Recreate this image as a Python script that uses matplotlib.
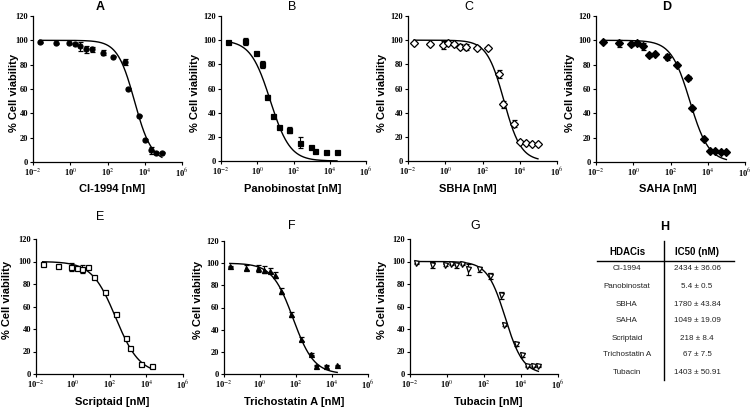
import numpy as np
import matplotlib.pyplot as plt
from matplotlib.lines import Line2D

plt.rcParams['font.family'] = 'Liberation Sans'
plt.rcParams['mathtext.fontset'] = 'stix'

W, H = 754, 409

# --- data (concentrations in nM, % cell viability, SEM) ---
conc_a = [0.023, 0.18, 0.81, 1.7, 3.3, 6.8, 14, 58, 204, 830, 1320, 5100, 10700, 22400, 40000, 83000]
via_a = [98.4, 97.5, 97.5, 97, 95, 92.5, 92.6, 90, 86.6, 82, 60, 38, 18, 9.5, 7.6, 7.6]
err_a = [0.5, 0.5, 0.5, 0.5, 4, 2.5, 2, 2, 0.5, 2.5, 0.5, 0.5, 0.5, 3, 0.5, 0.5]

conc_b = [0.023, 0.2, 0.87, 1.9, 3.6, 7.8, 15, 60, 230, 910, 1550, 6300, 25000]
via_b = [98.6, 99.2, 89, 80, 53, 37.4, 28, 25.8, 15, 12, 8.6, 7.5, 7.5]
err_b = [0.5, 3, 1.5, 3, 2, 1, 0.5, 2.5, 4.5, 0.5, 0.5, 0.5, 0.5]

conc_c = [0.021, 0.15, 0.72, 1.4, 2.8, 5.9, 12.3, 50, 195, 760, 1230, 4800, 10000, 20500, 44000, 95000]
via_c = [98, 96.5, 96, 98, 97, 94.6, 94, 93.8, 93.5, 72, 47, 31, 15.7, 15, 14, 14]
err_c = [0.5, 0.5, 3, 0.5, 0.5, 2, 2.5, 1.5, 0.5, 3, 3, 3, 0.5, 0.5, 0.5, 0.5]

conc_d = [0.023, 0.17, 0.78, 1.6, 3.5, 7.2, 15, 62, 230, 890, 1510, 6200, 12600, 24500, 51000, 100000]
via_d = [99, 97.4, 97, 97.4, 95, 88, 89, 86, 79.4, 69, 44.7, 18.5, 8.8, 9, 8, 8]
err_d = [0.5, 2.5, 2, 0.5, 3, 1.5, 0.5, 2.5, 0.5, 1.5, 0.5, 0.5, 0.5, 0.5, 0.5, 0.5]

conc_e = [0.023, 0.16, 0.79, 1.7, 3.3, 6.9, 15, 58, 220, 830, 1320, 5500, 21000]
via_e = [97.9, 95.6, 95.5, 94.4, 93.5, 95, 86, 72.9, 53.1, 32.4, 22.7, 8.8, 7.4]
err_e = [0.5, 0.5, 3.5, 0.5, 3.5, 1, 0.5, 0.5, 0.5, 0.5, 0.5, 0.5, 0.5]

conc_f = [0.021, 0.16, 0.76, 1.6, 3.4, 7.1, 14.5, 52, 190, 690, 1260, 4900, 19500]
via_f = [97, 96, 95.4, 94, 93.3, 89.4, 75, 53.7, 31.5, 18, 7.5, 7.5, 7.8]
err_f = [0.5, 2.5, 3, 3, 2.5, 2.5, 3, 2, 2, 0.5, 0.5, 0.5, 0.5]

conc_g = [0.021, 0.16, 0.74, 1.6, 3.2, 6.8, 13.8, 56, 210, 830, 1260, 5400, 11000, 21000, 43000, 87000]
via_g = [98.6, 97, 96.8, 97.4, 96.5, 97.7, 93, 93, 87, 69.8, 44, 26.7, 17, 7, 7, 7]
err_g = [0.5, 3, 1, 0.5, 2, 0.5, 5, 2.5, 2.5, 3.5, 1.5, 1.5, 2, 0.5, 0.5, 0.5]

# fitted curve parameters: log10 IC50, Hill slope
fit_a = (3.45, 0.95)
fit_b = (0.72, 0.8)
fit_c = (3.15, 0.95)
fit_d = (3.04, 0.86)
fit_e = (2.34, 0.67)
fit_f = (1.84, 0.75)
fit_g = (3.15, 0.9)

drugs = ['CI-1994', 'Panobinostat', 'SBHA', 'SAHA', 'Scriptaid', 'Trichostatin A', 'Tubacin']
ic50 = ['2434 ± 36.06', '5.4 ± 0.5', '1780 ± 43.84', '1049 ± 19.09', '218 ± 8.4', '67 ± 7.5', '1403 ± 50.91']

xticks = [1e-2, 1e0, 1e2, 1e4, 1e6]
xticklabels = ['10$^{-2}$', '10$^{0}$', '10$^{2}$', '10$^{4}$', '10$^{6}$']
yticks = [0, 20, 40, 60, 80, 100, 120]

fig = plt.figure(figsize=(W / 100, H / 100), dpi=100)


def px(x0, y0, x1, y1):
    return [x0 / W, 1 - y1 / H, (x1 - x0) / W, (y1 - y0) / H]


def panel(box, conc, via, err, fit, marker, filled, title, tweight, tpos, xlabel, xlpos, ylpos):
    ax = fig.add_axes(px(*box))
    ax.set_xscale('log')
    lo, hi = np.log10(min(conc)), np.log10(max(conc))
    xs = np.logspace(lo, hi, 300)
    ax.plot(xs, 100 / (1 + (xs / 10 ** fit[0]) ** fit[1]), color='k', lw=1)
    ax.errorbar(conc, via, yerr=err, fmt=marker, color='k',
                mfc='k' if filled else 'white', mec='k', ms=3.6, mew=0.9,
                capsize=1.8, elinewidth=0.8, capthick=0.8)
    ax.set_xlim(1e-2, 1e6)
    ax.set_ylim(0, 120)
    ax.set_xticks(xticks)
    ax.set_xticklabels(xticklabels)
    ax.set_yticks(yticks)
    ax.spines['top'].set_visible(False)
    ax.spines['right'].set_visible(False)
    for s in ['left', 'bottom']:
        ax.spines[s].set_linewidth(0.9)
    ax.tick_params(which='major', length=2.5, width=0.8, labelsize=6, pad=1)
    ax.tick_params(which='minor', length=1.5, width=0.5)
    for lab in ax.get_xticklabels() + ax.get_yticklabels():
        lab.set_fontfamily('Liberation Serif')
        lab.set_fontweight('bold')
    fig.text(tpos[0] / W, 1 - tpos[1] / H, title, ha='center', va='center',
             fontsize=9, fontweight=tweight)
    fig.text(xlpos[0] / W, 1 - xlpos[1] / H, xlabel, ha='center', va='center',
             fontsize=8, fontweight='bold')
    fig.text(ylpos[0] / W, 1 - ylpos[1] / H, '% Cell viability', ha='center', va='center',
             fontsize=8, fontweight='bold', rotation=90)
    return ax


panel((33, 16, 182, 162), conc_a, via_a, err_a, fit_a, 'o', True, 'A', 'bold', (100, 7), 'CI-1994 [nM]', (112, 189), (14, 93))
panel((221, 16, 366, 161), conc_b, via_b, err_b, fit_b, 's', True, 'B', 'normal', (292, 7), 'Panobinostat [nM]', (293, 189), (195, 93))
panel((408, 16, 557, 161), conc_c, via_c, err_c, fit_c, 'D', False, 'C', 'normal', (469, 7), 'SBHA [nM]', (468, 189), (382, 93))
panel((596, 16, 745, 162), conc_d, via_d, err_d, fit_d, 'D', True, 'D', 'bold', (667, 7), 'SAHA [nM]', (668, 189), (570, 93))
panel((36, 239, 183, 374), conc_e, via_e, err_e, fit_e, 's', False, 'E', 'normal', (100, 217), 'Scriptaid [nM]', (112, 402), (7, 300))
panel((224, 241, 368, 374), conc_f, via_f, err_f, fit_f, '^', True, 'F', 'normal', (292, 226), 'Trichostatin A [nM]', (294, 402), (198, 300))
panel((410, 239, 558, 374), conc_g, via_g, err_g, fit_g, 'v', False, 'G', 'normal', (475, 226), 'Tubacin [nM]', (488, 402), (382, 300))

# --- table H ---
fig.text(665 / W, 1 - 227 / H, 'H', ha='center', va='center', fontsize=9, fontweight='bold')
fig.text(627 / W, 1 - 252 / H, 'HDACis', ha='center', va='center', fontsize=7, fontweight='bold')
fig.text(697 / W, 1 - 252 / H, 'IC50 (nM)', ha='center', va='center', fontsize=7, fontweight='bold')
fig.add_artist(Line2D([597 / W, 734 / W], [1 - 261 / H, 1 - 261 / H], color='k', lw=1))
fig.add_artist(Line2D([664 / W, 664 / W], [1 - 241 / H, 1 - 380 / H], color='k', lw=1))
row_y = [269, 287, 304, 321, 338, 355, 373]
for name, val, yy in zip(drugs, ic50, row_y):
    fig.text(627 / W, 1 - yy / H, name, ha='center', va='center', fontsize=5.8, color='#222222')
    fig.text(697 / W, 1 - yy / H, val, ha='center', va='center', fontsize=5.8, color='#222222')

fig.savefig('out.png', dpi=100)
